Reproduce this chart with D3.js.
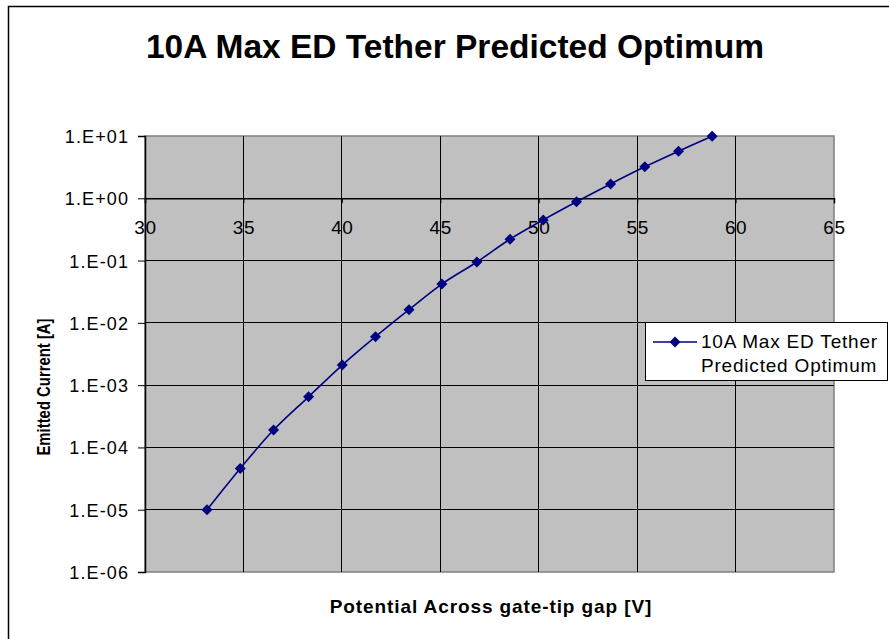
<!DOCTYPE html>
<html>
<head>
<meta charset="utf-8">
<script src="https://cdn.jsdelivr.net/npm/d3@7"></script>
<style>
  html, body { margin: 0; padding: 0; background: #fff; }
  svg { display: block; font-family: Arial, "Liberation Sans", sans-serif; }
</style>
</head>
<body>
<svg id="chart" width="889" height="639"></svg>
<script>
const titleText = "10A Max ED Tether Predicted Optimum";
const xTitle = "Potential Across gate-tip gap [V]";
const yTitle = "Emitted Current [A]";
const seriesName = ["10A Max ED Tether", "Predicted Optimum"];

const voltage = [33.15, 34.84, 36.53, 38.31, 40.02, 41.71, 43.41, 45.08, 46.86, 48.54, 50.23, 51.92, 53.65, 55.39, 57.10, 58.81];
const current = [1.0e-5, 4.6e-5, 1.9e-4, 6.5e-4, 2.1e-3, 6.0e-3, 1.63e-2, 4.2e-2, 9.5e-2, 0.22, 0.45, 0.88, 1.70, 3.2, 5.7, 9.9];

const xTicks = [30, 35, 40, 45, 50, 55, 60, 65];
const yTicks = [1e-6, 1e-5, 1e-4, 1e-3, 1e-2, 1e-1, 1, 10];
const yTickLabels = ["1.E-06", "1.E-05", "1.E-04", "1.E-03", "1.E-02", "1.E-01", "1.E+00", "1.E+01"];

const svg = d3.select("#chart");
const plot = { left: 145, right: 834, top: 136, bottom: 572 };

const x = d3.scaleLinear().domain([30, 65]).range([plot.left, plot.right]);
const y = d3.scaleLog().domain([1e-6, 10]).range([plot.bottom, plot.top]);

// outer border
svg.append("rect").attr("x", 8.5).attr("y", 6.5).attr("width", 900).attr("height", 700)
  .attr("fill", "#fff").attr("stroke", "#000").attr("stroke-width", 1.5);

// title
svg.append("text").attr("x", 455).attr("y", 58).attr("text-anchor", "middle")
  .attr("font-size", 33.5).attr("font-weight", "bold").attr("fill", "#000").text(titleText);

// plot background
svg.append("rect").attr("x", plot.left).attr("y", plot.top)
  .attr("width", plot.right - plot.left).attr("height", plot.bottom - plot.top)
  .attr("fill", "#c0c0c0").attr("stroke", "#808080").attr("stroke-width", 1.5);

// gridlines
const grid = svg.append("g").attr("shape-rendering", "crispEdges");
grid.selectAll(".vg").data(xTicks.slice(1, -1)).join("line")
  .attr("x1", d => x(d)).attr("x2", d => x(d))
  .attr("y1", plot.top).attr("y2", plot.bottom)
  .attr("stroke", "#000").attr("stroke-width", 1);
grid.selectAll(".hg").data(yTicks.slice(1, -1)).join("line")
  .attr("x1", plot.left).attr("x2", plot.right)
  .attr("y1", d => y(d)).attr("y2", d => y(d))
  .attr("stroke", "#000").attr("stroke-width", 1);

// y axis
const yAxis = d3.axisLeft(y).tickValues(yTicks)
  .tickFormat((d, i) => yTickLabels[i]).tickSize(7).tickPadding(9);
const gy = svg.append("g").attr("transform", `translate(${plot.left},0)`).call(yAxis);
gy.select(".domain").attr("stroke", "#000").attr("stroke-width", 1.5);
gy.selectAll(".tick line").attr("stroke", "#000");
gy.selectAll(".tick text").attr("font-size", 18).attr("fill", "#000")
  .attr("font-family", "Arial, 'Liberation Sans', sans-serif").attr("letter-spacing", 1.1)
  .attr("dy", "0.36em");

// x axis crossing at 1.E+00
const xAxis = d3.axisBottom(x).tickValues(xTicks).tickSize(5).tickPadding(17);
const gx = svg.append("g").attr("transform", `translate(0,${y(1)})`).call(xAxis);
gx.select(".domain").attr("stroke", "#000").attr("stroke-width", 1.5);
gx.selectAll(".tick line").attr("stroke", "#000");
gx.selectAll(".tick text").attr("font-size", 19).attr("fill", "#000")
  .attr("font-family", "Arial, 'Liberation Sans', sans-serif").attr("letter-spacing", 0.6);

// series
const pts = voltage.map((v, i) => [v, current[i]]);
const line = d3.line().x(d => x(d[0])).y(d => y(d[1])).curve(d3.curveCatmullRom.alpha(0.5));
svg.append("path").datum(pts).attr("d", line)
  .attr("fill", "none").attr("stroke", "#000080").attr("stroke-width", 1.6);
const diamond = "M0,-5.5L5.5,0L0,5.5L-5.5,0Z";
svg.selectAll(".pt").data(pts).join("path")
  .attr("d", diamond)
  .attr("transform", d => `translate(${x(d[0])},${y(d[1])})`)
  .attr("fill", "#000080");

// axis titles
svg.append("text").attr("x", 491).attr("y", 613).attr("text-anchor", "middle")
  .attr("font-size", 19).attr("font-weight", "bold").attr("letter-spacing", 0.9).text(xTitle);
svg.append("text").attr("transform", "translate(50,387) rotate(-90) scale(0.85,1)").attr("text-anchor", "middle")
  .attr("font-size", 17.5).attr("font-weight", "bold").text(yTitle);

// legend
const lg = svg.append("g");
lg.append("rect").attr("x", 645.5).attr("y", 322.5).attr("width", 242).attr("height", 58)
  .attr("fill", "#fff").attr("stroke", "#000").attr("stroke-width", 1);
lg.append("line").attr("x1", 653).attr("x2", 697).attr("y1", 342).attr("y2", 342)
  .attr("stroke", "#000080").attr("stroke-width", 1.6);
lg.append("path").attr("d", diamond).attr("transform", "translate(675,342)").attr("fill", "#000080");
lg.selectAll(".lt").data(seriesName).join("text")
  .attr("x", 701).attr("y", (d, i) => 348 + i * 24)
  .attr("font-size", 19).attr("letter-spacing", 0.8).attr("fill", "#000").text(d => d);
</script>
</body>
</html>
